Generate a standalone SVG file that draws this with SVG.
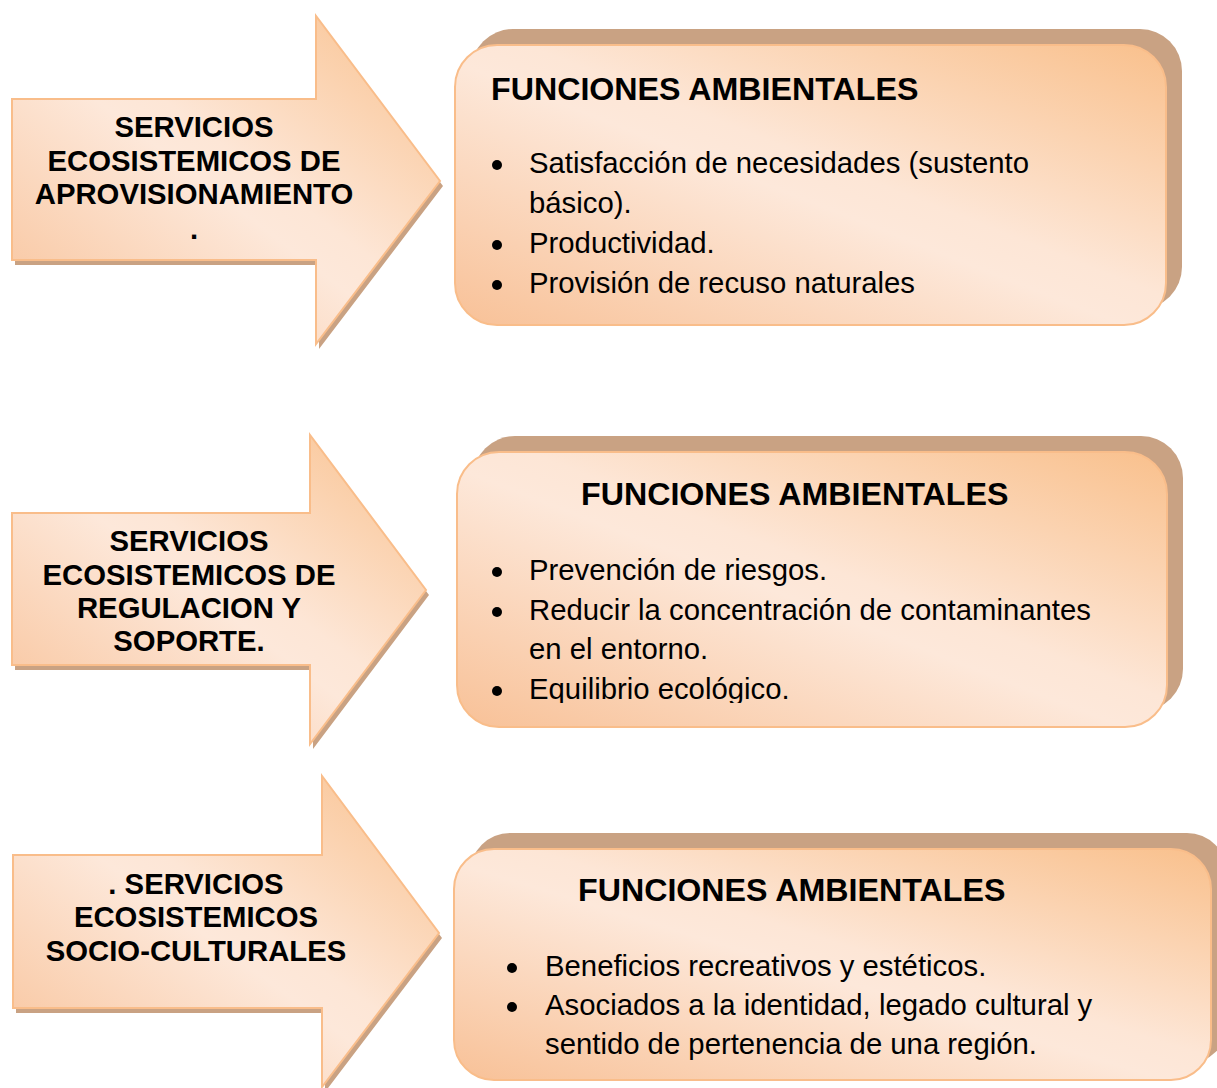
<svg xmlns="http://www.w3.org/2000/svg" xmlns:xlink="http://www.w3.org/1999/xlink" width="1217" height="1088" viewBox="0 0 1217 1088">
  <defs>
    <linearGradient id="peach" x1="0" y1="1" x2="1" y2="0">
      <stop offset="0" stop-color="#f8c197"/>
      <stop offset="0.47" stop-color="#fde8da"/>
      <stop offset="0.55" stop-color="#fde6d6"/>
      <stop offset="1" stop-color="#f9c08c"/>
    </linearGradient>
    <clipPath id="clip2">
      <rect x="440" y="430" width="777" height="273"/>
    </clipPath>
    <style>
      .shadow { fill: #c9a283; }
      .shape { fill: url(#peach); stroke: #f9bd8a; stroke-width: 2; }
      .atext { font-family: "Liberation Sans", Arial, sans-serif; font-size: 29.3px; font-weight: bold; fill: #000; text-anchor: middle; }
      .title { font-family: "Liberation Sans", Arial, sans-serif; font-size: 32.2px; font-weight: bold; fill: #000; }
      .item { font-family: "Liberation Sans", Arial, sans-serif; font-size: 29.3px; fill: #000; }
      .dot { fill: #000; }
    </style>
  </defs>

  <g id="connectors"/>

  <!-- Arrow 1 -->
  <g id="arrow-aprovisionamiento">
    <path class="shadow" transform="translate(3,5)" d="M12,99 H316 V16 L440,181 L316,344 V260 H12 Z"/>
    <path class="shape" d="M12,99 H316 V16 L440,181 L316,344 V260 H12 Z"/>
    <text class="atext" x="194" y="137">SERVICIOS</text>
    <text class="atext" x="194" y="171">ECOSISTEMICOS DE</text>
    <text class="atext" x="194" y="204">APROVISIONAMIENTO</text>
    <text class="atext" x="194" y="239">.</text>
  </g>

  <!-- Box 1 -->
  <g id="box-funciones-1">
    <rect class="shadow" x="471" y="29" width="711" height="280" rx="42" ry="42"/>
    <rect class="shape" x="455" y="45" width="711" height="280" rx="42" ry="42"/>
    <text class="title" x="491" y="100">FUNCIONES AMBIENTALES</text>
    <circle class="dot" cx="497" cy="165" r="5"/>
    <text class="item" x="529" y="173">Satisfacción de necesidades (sustento</text>
    <text class="item" x="529" y="213">básico).</text>
    <circle class="dot" cx="497" cy="245" r="5"/>
    <text class="item" x="529" y="253">Productividad.</text>
    <circle class="dot" cx="497" cy="285" r="5"/>
    <text class="item" x="529" y="293">Provisión de recuso naturales</text>
  </g>

  <!-- Arrow 2 -->
  <g id="arrow-regulacion">
    <path class="shadow" transform="translate(3,5)" d="M12,513 H310 V435 L426,590 L310,744 V665 H12 Z"/>
    <path class="shape" d="M12,513 H310 V435 L426,590 L310,744 V665 H12 Z"/>
    <text class="atext" x="189" y="551">SERVICIOS</text>
    <text class="atext" x="189" y="585">ECOSISTEMICOS DE</text>
    <text class="atext" x="189" y="618">REGULACION Y</text>
    <text class="atext" x="189" y="651">SOPORTE.</text>
  </g>

  <!-- Box 2 -->
  <g id="box-funciones-2">
    <rect class="shadow" x="473" y="436" width="710" height="275" rx="42" ry="42"/>
    <rect class="shape" x="457" y="452" width="710" height="275" rx="42" ry="42"/>
    <text class="title" x="581" y="505">FUNCIONES AMBIENTALES</text>
    <circle class="dot" cx="497" cy="572" r="5"/>
    <text class="item" x="529" y="580">Prevención de riesgos.</text>
    <circle class="dot" cx="497" cy="612" r="5"/>
    <text class="item" x="529" y="620">Reducir la concentración de contaminantes</text>
    <text class="item" x="529" y="659">en el entorno.</text>
    <g clip-path="url(#clip2)">
      <circle class="dot" cx="497" cy="691" r="5"/>
      <text class="item" x="529" y="699">Equilibrio ecológico.</text>
    </g>
  </g>

  <!-- Arrow 3 -->
  <g id="arrow-socioculturales">
    <path class="shadow" transform="translate(3,5)" d="M13,855 H322 V776 L439,933 L322,1087 V1008 H13 Z"/>
    <path class="shape" d="M13,855 H322 V776 L439,933 L322,1087 V1008 H13 Z"/>
    <text class="atext" x="196" y="894">. SERVICIOS</text>
    <text class="atext" x="196" y="927">ECOSISTEMICOS</text>
    <text class="atext" x="196" y="961">SOCIO-CULTURALES</text>
  </g>

  <!-- Box 3 -->
  <g id="box-funciones-3">
    <rect class="shadow" x="470" y="833" width="757" height="231" rx="40" ry="40"/>
    <rect class="shape" x="454" y="849" width="757" height="231" rx="40" ry="40"/>
    <text class="title" x="578" y="901">FUNCIONES AMBIENTALES</text>
    <circle class="dot" cx="512" cy="968" r="5"/>
    <text class="item" x="545" y="976">Beneficios recreativos y estéticos.</text>
    <circle class="dot" cx="512" cy="1007" r="5"/>
    <text class="item" x="545" y="1015">Asociados a la identidad, legado cultural y</text>
    <text class="item" x="545" y="1054">sentido de pertenencia de una región.</text>
  </g>
</svg>
